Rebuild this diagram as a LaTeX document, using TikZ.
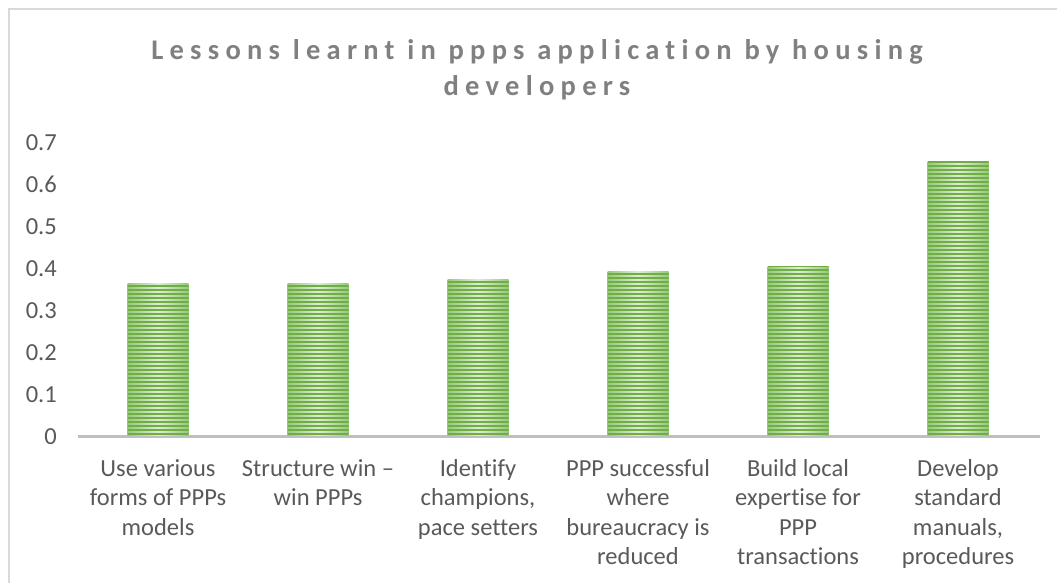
\documentclass[tikz,border=0pt]{standalone}
\usepackage{fontspec}
\setmainfont{Carlito}[Ligatures=NoCommon]
\newfontfamily\titlefont{Carlito}[LetterSpace=22,Ligatures=NoCommon]
\usetikzlibrary{positioning}

\definecolor{framegray}{HTML}{D9D9D9}
\definecolor{axisgray}{HTML}{BFBFBF}
\definecolor{labelgray}{HTML}{595959}
\definecolor{titlegray}{HTML}{808080}
\definecolor{barline}{HTML}{70AD47}
\definecolor{barside}{HTML}{98C97A}
\definecolor{barmid}{HTML}{DCEED2}

\tikzset{
  ticklabel/.style={anchor=east, inner sep=0, text=labelgray,
    font=\fontsize{24.5}{29.5}\selectfont},
  catlabel/.style={anchor=north, inner sep=0, align=center, text=labelgray,
    font=\fontsize{24.5}{29.5}\selectfont},
  charttitle/.style={anchor=base, inner sep=0, text=titlegray,
    font=\titlefont\bfseries\fontsize{28.5}{36}\selectfont},
  bar/.style={draw=none, inner sep=0, outer sep=0, minimum width=61,
    anchor=south, left color=barside, right color=barside, middle color=barmid,
    path picture={
      \foreach \k in {0,...,75}{
        \draw[barline, line width=1.8]
          ([yshift=\k*4+1]path picture bounding box.south west) --
          ([yshift=\k*4+1]path picture bounding box.south east);
      }
    }},
}

\begin{document}
\begin{tikzpicture}[x=1pt, y=-1pt]
  \useasboundingbox (0,0) rectangle (1057,582);
  % chart frame (cut at right and bottom)
  \draw[framegray, line width=2] (8.5,600) -- (8.5,8.5) -- (1070,8.5);

  % title, two lines
  \node[charttitle] (title1) at (537,59) {Lessons learnt in ppps application by housing};
  \node[charttitle] (title2) at (537,95) {developers};

  % value axis labels
  \foreach \v/\t in {0/0,1/0.1,2/0.2,3/0.3,4/0.4,5/0.5,6/0.6,7/0.7}{
    \node[ticklabel] (tick\v) at (57,437-\v*42.1) {\t};
  }

  % category axis
  \coordinate (axL) at (78,436.5);
  \coordinate (axR) at (1040,436.5);
  \draw[axisgray, line width=2.6] (axL) -- (axR);

  % bars
  \foreach \i/\val in {1/0.36,2/0.36,3/0.37,4/0.39,5/0.40,6/0.65}{
    \node[bar, minimum height=\val*421] (bar\i) at (158+\i*160-160,435.2) {};
  }

  % category labels
  \node[catlabel] (c1) at (158,459) {Use various\\forms of PPPs\\models};
  \node[catlabel] (c2) at (318,459) {Structure win --\\win PPPs};
  \node[catlabel] (c3) at (478,459) {Identify\\champions,\\pace setters};
  \node[catlabel] (c4) at (638,459) {PPP successful\\where\\bureaucracy is\\reduced};
  \node[catlabel] (c5) at (798,459) {Build local\\expertise for\\PPP\\transactions};
  \node[catlabel] (c6) at (958,459) {Develop\\standard\\manuals,\\procedures};
\end{tikzpicture}
\end{document}
